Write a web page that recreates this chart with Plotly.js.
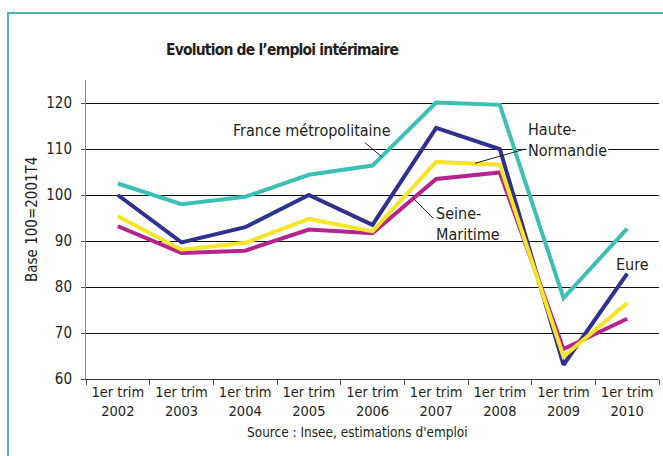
<!DOCTYPE html>
<html>
<head>
<meta charset="utf-8">
<script src="https://cdn.plot.ly/plotly-3.0.1.min.js"></script>
<style>
  html, body { margin: 0; padding: 0; background: #fff; }
  #wrap { position: relative; width: 663px; height: 456px; overflow: hidden; }
  #chart { position: absolute; left: 0; top: 0; width: 663px; height: 456px; }
  #frame { position: absolute; left: 7px; top: 12px; width: 700px; height: 500px;
           border-top: 2px solid #4fb5ae; border-left: 2px solid #4fb5ae;
           pointer-events: none; z-index: 5; }
  #chart .gtitle { letter-spacing: -0.8px; }
</style>
</head>
<body>
<div id="wrap">
  <div id="chart"></div>
  <div id="frame"></div>
</div>
<script>
// ---- data ----
const years = ["2002", "2003", "2004", "2005", "2006", "2007", "2008", "2009", "2010"];
const categories = years.map(y => "1er trim<br>" + y);
const franceMetro   = [102.5, 98.0, 99.6, 104.4, 106.4, 120.1, 119.6, 77.6, 92.7];
const eure          = [100.0, 89.7, 93.0, 100.0, 93.5, 114.6, 110.0, 63.1, 82.9];
const hauteNormandie= [95.4, 88.1, 89.6, 94.8, 92.1, 107.2, 106.6, 64.9, 76.5];
const seineMaritime = [93.2, 87.4, 87.9, 92.5, 91.7, 103.5, 104.9, 66.5, 73.1];
const yTicks = [60, 70, 80, 90, 100, 110, 120];

const FONT = '"Liberation Sans Narrow", "DejaVu Sans Condensed", "Liberation Sans", sans-serif';
const TXT = '#231f20';

function line(name, y, color) {
  return { type: 'scatter', mode: 'lines', name: name, x: categories, y: y,
           line: { color: color, width: 4 }, hoverinfo: 'skip' };
}

const traces = [
  line('France métropolitaine', franceMetro, '#3cbfb7'),
  line('Eure', eure, '#2e3190'),
  line('Seine-Maritime', seineMaritime, '#b5238d'),
  line('Haute-Normandie', hauteNormandie, '#f9e528')
];

// helpers: pixel positions -> axis coordinates (plot area 86..659 x, 80..379 y)
const PL = 86, PR = 659, PT = 80, PB = 379, YMIN = 60, YMAX = 125;
const step = (PR - PL) / years.length;
const px2x = px => (px - PL) / step - 0.5;
const py2y = py => YMIN + (PB - py) / (PB - PT) * (YMAX - YMIN);

function leader(x0, y0, x1, y1) {
  return { type: 'line', xref: 'x', yref: 'y', x0: px2x(x0), y0: py2y(y0), x1: px2x(x1), y1: py2y(y1),
           line: { color: TXT, width: 1 }, layer: 'above' };
}
function label(text, px, py, anchor, bg) {
  const a = { text: text, xref: 'x', yref: 'y', x: px2x(px), y: py2y(py), showarrow: false,
              xanchor: anchor, yanchor: 'middle', align: 'left',
              font: { family: FONT, size: 16, color: TXT } };
  if (bg) { a.bgcolor = '#fff'; a.borderpad = 1; }
  return a;
}

const layout = {
  width: 663, height: 456,
  margin: { l: PL, r: 663 - PR, t: PT, b: 456 - PB },
  paper_bgcolor: '#fff', plot_bgcolor: '#fff',
  showlegend: false,
  font: { family: FONT, color: TXT },
  title: { text: "<b>Evolution de l’emploi intérimaire</b>", font: { family: FONT, size: 15.5, color: TXT },
           x: 282 / 663, xanchor: 'center', y: 1 - 50 / 456, yanchor: 'middle' },
  xaxis: {
    type: 'category', range: [-0.5, years.length - 0.5],
    showgrid: false, zeroline: false,
    showline: true, linecolor: '#3a3a3a', linewidth: 1,
    ticks: 'outside', tickson: 'boundaries', ticklen: 5, tickcolor: '#555', tickwidth: 1,
    tickfont: { family: FONT, size: 14.5, color: TXT }, fixedrange: true
  },
  yaxis: {
    range: [YMIN, YMAX], tickvals: yTicks, ticktext: yTicks.map(String),
    showgrid: true, gridcolor: '#111', gridwidth: 1, zeroline: false,
    showline: true, linecolor: '#8a8a8a', linewidth: 1,
    ticks: 'outside', ticklen: 4, tickcolor: '#555',
    ticklabelstandoff: 6,
    tickfont: { family: FONT, size: 15, color: TXT }, fixedrange: true
  },
  shapes: [
    leader(365, 142.7, 381.7, 156.7),
    leader(475, 163.3, 525, 149),
    leader(413.3, 198.3, 433.3, 218.3)
  ],
  annotations: [
    label('France métropolitaine', 231, 130.5, 'left', false),
    label('Haute-<br>Normandie', 526, 140, 'left', true),
    label('Seine-<br>Maritime', 434, 224, 'left', false),
    label('Eure', 614, 264, 'left', false),
    { text: 'Base 100=2001T4', xref: 'paper', yref: 'paper', x: -54 / 573, y: 0.5 + (229.5 - 220) / 299,
      textangle: -90, showarrow: false, xanchor: 'center', yanchor: 'middle',
      font: { family: FONT, size: 15, color: TXT } },
    { text: "Source : Insee, estimations d'emploi", xref: 'paper', yref: 'paper',
      x: (357 - PL) / 573, y: -(432 - PB) / 299, showarrow: false, xanchor: 'center', yanchor: 'middle',
      font: { family: FONT, size: 13.5, color: TXT } }
  ]
};

Plotly.newPlot('chart', traces, layout, { staticPlot: true, displayModeBar: false });
</script>
</body>
</html>
